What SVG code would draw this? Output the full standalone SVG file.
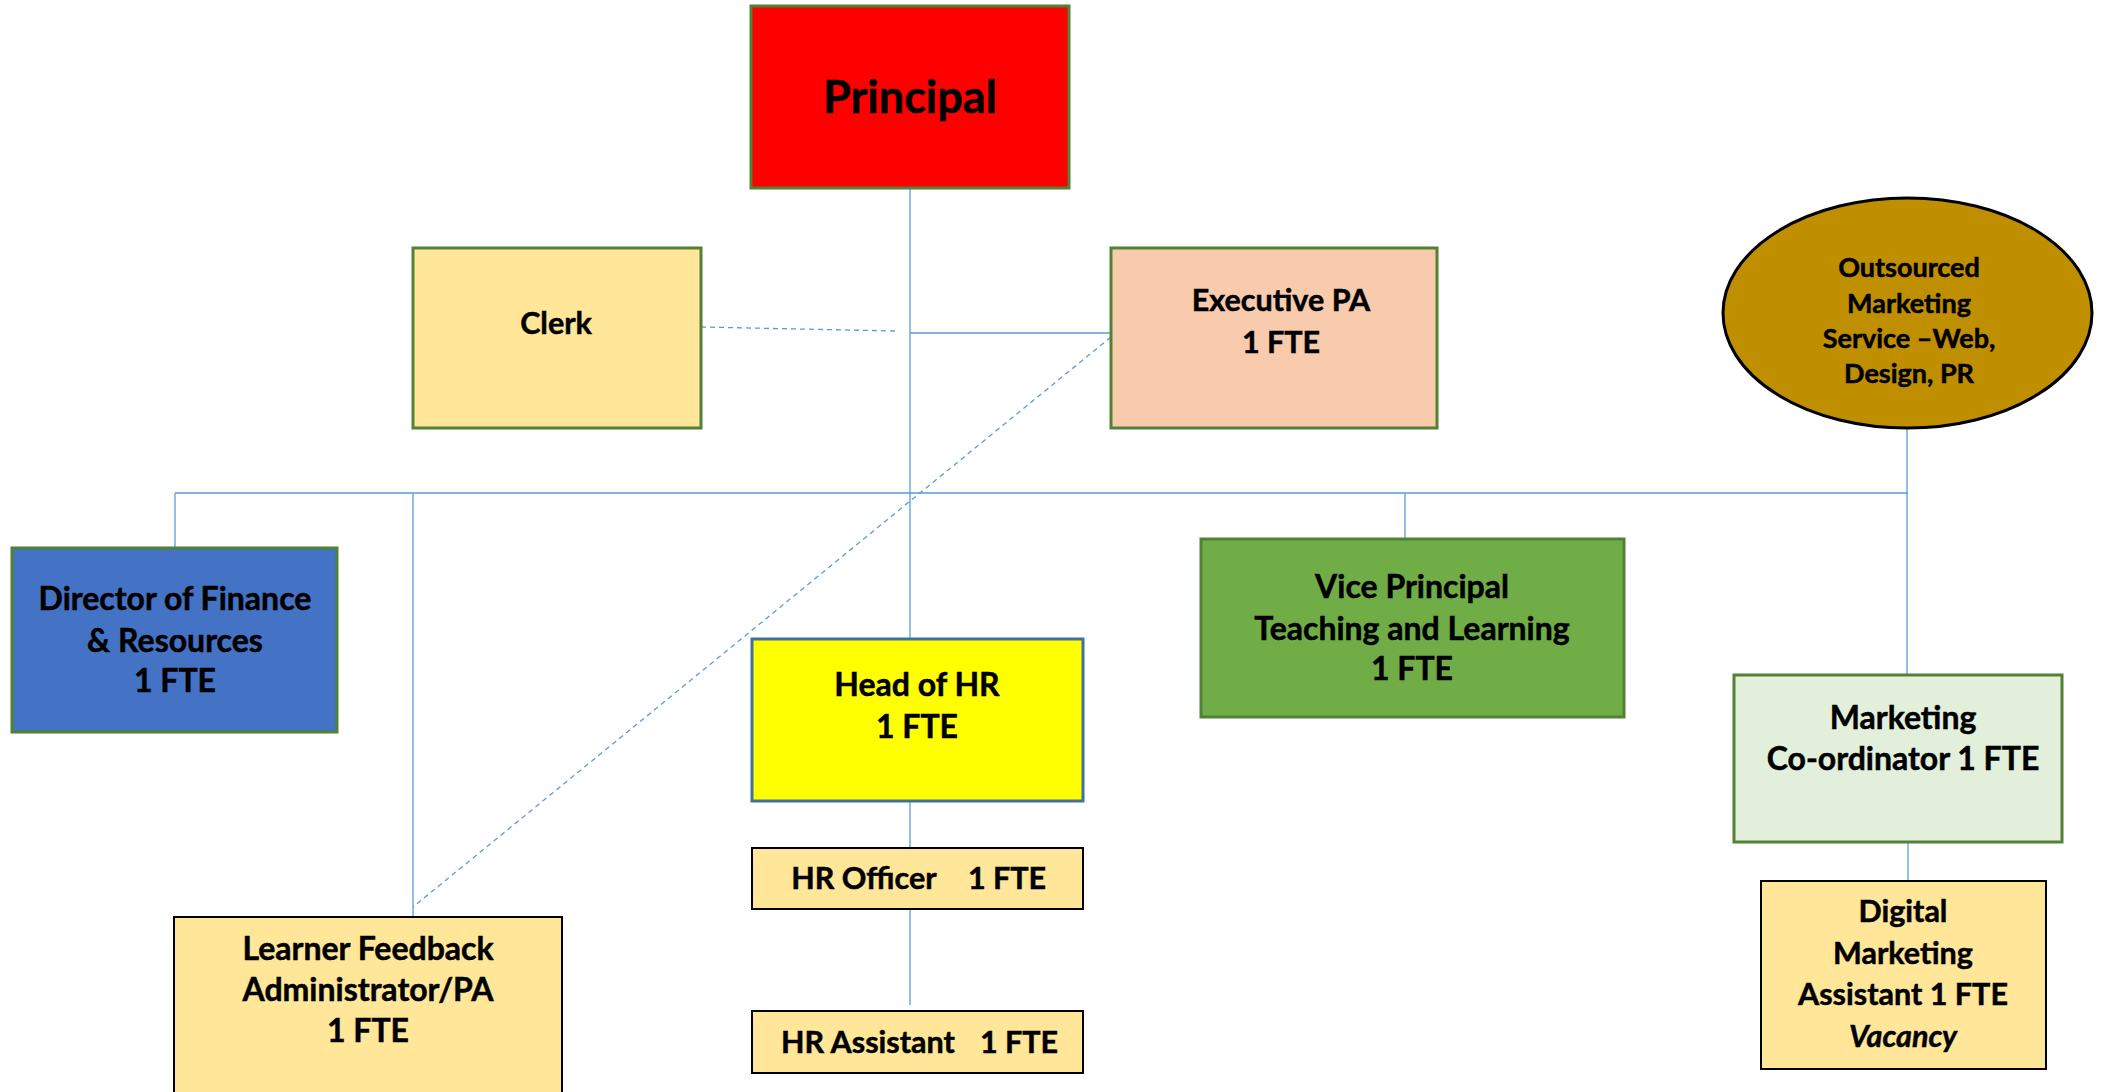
<svg xmlns="http://www.w3.org/2000/svg" width="2101" height="1092" viewBox="0 0 2101 1092">
<style>
.t{font-family:Lato,"Liberation Sans",sans-serif;font-weight:bold;fill:#000;stroke:#000;stroke-width:0.5;text-anchor:middle}
.s32{font-size:32px}
.s31{font-size:30.5px}
.s26{font-size:27px}
.gs{stroke:#538135;stroke-width:3}
.bs{stroke:#000;stroke-width:2}
.c{stroke:#5B9BD5;stroke-width:1.3;fill:none}
.d{stroke:#5B9BD5;stroke-width:1.3;fill:none;stroke-dasharray:5 4}
</style>
<rect width="2101" height="1092" fill="#fff"/>
<g id="connectors">
<line class="c" x1="910" y1="188" x2="910" y2="639"/>
<line class="c" x1="910" y1="333" x2="1111" y2="333" stroke-width="2"/>
<line class="d" x1="701" y1="327" x2="896" y2="331"/>
<line class="d" x1="1111" y1="337" x2="413" y2="907"/>
<line class="c" x1="175" y1="493" x2="1908" y2="493"/>
<line class="c" x1="175" y1="493" x2="175" y2="548"/>
<line class="c" x1="413" y1="493" x2="413" y2="917"/>
<line class="c" x1="1405" y1="493" x2="1405" y2="538"/>
<line class="c" x1="1907" y1="428" x2="1907" y2="675"/>
<line class="c" x1="910" y1="801" x2="910" y2="848"/>
<line class="c" x1="910" y1="909" x2="910" y2="1005"/>
<line class="c" x1="1908" y1="843" x2="1908" y2="881"/>
</g>
<g id="principal">
<rect x="751" y="6" width="318" height="182" fill="#FF0000" class="gs"/>
<text class="t" x="910" y="113" font-size="45">Principal</text>
</g>
<g id="clerk">
<rect x="413" y="248" width="288" height="180" fill="#FFE699" class="gs"/>
<text class="t s31" x="556" y="334">Clerk</text>
</g>
<g id="executive-pa">
<rect x="1111" y="248" width="326" height="180" fill="#F8CBAD" class="gs"/>
<text class="t s31" x="1281" y="311">Executive PA</text>
<text class="t s31" x="1281" y="353">1 FTE</text>
</g>
<g id="outsourced-marketing">
<ellipse cx="1907.5" cy="313" rx="184.5" ry="115" fill="#BF8F00" stroke="#000" stroke-width="3"/>
<text class="t s26" x="1909" y="277">Outsourced</text>
<text class="t s26" x="1909" y="313">Marketing</text>
<text class="t s26" x="1909" y="348">Service –Web,</text>
<text class="t s26" x="1909" y="383">Design, PR</text>
</g>
<g id="director-finance">
<rect x="12" y="548" width="325" height="184" fill="#4472C4" class="gs"/>
<text class="t s32" x="175" y="610">Director of Finance</text>
<text class="t s32" x="175" y="652">&amp; Resources</text>
<text class="t s32" x="175" y="692">1 FTE</text>
</g>
<g id="vice-principal">
<rect x="1201" y="539" width="423" height="178" fill="#70AD47" class="gs"/>
<text class="t s32" x="1412" y="598">Vice Principal</text>
<text class="t s32" x="1412" y="640">Teaching and Learning</text>
<text class="t s32" x="1412" y="680">1 FTE</text>
</g>
<g id="head-hr">
<rect x="752" y="639" width="331" height="162" fill="#FFFF00" stroke="#41719C" stroke-width="3"/>
<text class="t s32" x="917" y="696">Head of HR</text>
<text class="t s32" x="917" y="738">1 FTE</text>
</g>
<g id="hr-officer">
<rect x="752" y="848" width="331" height="61" fill="#FFE699" class="bs"/>
<text class="t s31" x="864" y="889">HR Officer</text>
<text class="t s31" x="1007" y="889">1 FTE</text>
</g>
<g id="hr-assistant">
<rect x="752" y="1011" width="331" height="62" fill="#FFE699" class="bs"/>
<text class="t s31" x="868" y="1053">HR Assistant</text>
<text class="t s31" x="1019" y="1053">1 FTE</text>
</g>
<g id="learner-feedback">
<rect x="174" y="917" width="388" height="180" fill="#FFE699" class="bs"/>
<text class="t s32" x="368" y="960">Learner Feedback</text>
<text class="t s32" x="368" y="1001">Administrator/PA</text>
<text class="t s32" x="368" y="1042">1 FTE</text>
</g>
<g id="marketing-coordinator">
<rect x="1734" y="675" width="328" height="167" fill="#E2EFDA" class="gs"/>
<text class="t s32" x="1903" y="729">Marketing</text>
<text class="t s32" x="1903" y="770">Co-ordinator 1 FTE</text>
</g>
<g id="digital-marketing">
<rect x="1761" y="881" width="285" height="188" fill="#FFE699" class="bs"/>
<text class="t s31" x="1903" y="922">Digital</text>
<text class="t s31" x="1903" y="964">Marketing</text>
<text class="t s31" x="1903" y="1005">Assistant 1 FTE</text>
<text class="t s31" x="1903" y="1047" font-style="italic">Vacancy</text>
</g>
</svg>
